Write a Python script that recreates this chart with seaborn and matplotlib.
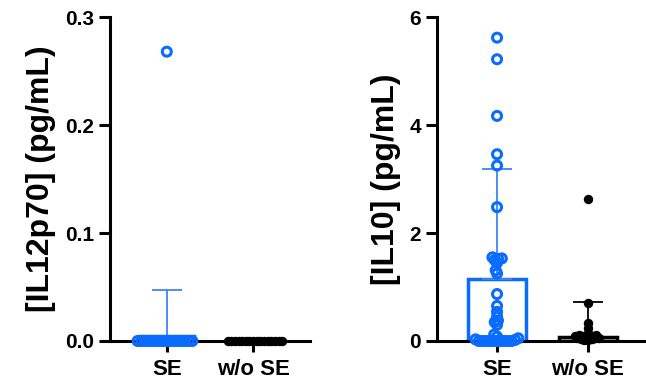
import numpy as np
import pandas as pd
import seaborn as sns
import matplotlib.pyplot as plt

#----------------------------------------
groups = ['SE', 'w/o SE']
colors = {'SE': '#0a6cff', 'w/o SE': 'black'}

# IL12p70 (pg/mL)
il12_se = [0.268] + [0.0] * 16
il12_wo = [0.0] * 16
il12_mean = [0.005, 0.0]
il12_sd = [0.042, 0.0]

# IL10 (pg/mL)
il10_se = [5.62, 5.22, 4.17, 3.46, 3.25, 2.48, 1.55, 1.53, 1.52, 1.50, 1.45,
           1.31, 1.25, 0.87, 0.65, 0.54, 0.45, 0.38, 0.35, 0.30, 0.12, 0.08,
           0.05, 0.03, 0.02, 0, 0, 0, 0, 0, 0, 0, 0, 0, 0]
il10_wo = [2.63, 0.71, 0.34, 0.24, 0.15, 0.12, 0.12, 0.10, 0.10, 0.10, 0.08,
           0.08, 0.06, 0.05, 0.05, 0.04, 0.03, 0.02, 0.02]
il10_mean = [1.15, 0.08]
il10_sd = [2.04, 0.65]
#----------------------------------------

sns.set_style('ticks')
plt.rcParams['font.family'] = ['Liberation Sans', 'DejaVu Sans']
plt.rcParams['font.weight'] = 'bold'
for k in ['text.color', 'axes.labelcolor', 'xtick.color', 'ytick.color']:
    plt.rcParams[k] = 'black'


def panel(ax, se, wo, means, sds, top, yticks, ylabel):
    df = pd.DataFrame({'group': ['SE'] * len(se) + ['w/o SE'] * len(wo),
                       'value': se + wo})
    bars = pd.DataFrame({'group': groups, 'mean': means})
    sns.barplot(data=bars, x='group', y='mean', hue='group', palette=colors,
                fill=False, width=0.64, linewidth=2.5, errorbar=None,
                legend=False, ax=ax)
    for i, g in enumerate(groups):
        ax.errorbar([i], [means[i]], yerr=[[0], [sds[i]]],
                    color='#3f86f5' if g == 'SE' else 'black',
                    lw=1.3, capsize=10.5, capthick=1.3, zorder=2)
    # small markers for the swarm layout, enlarged after the first draw
    sns.swarmplot(data=df, x='group', y='value', hue='group', palette=colors,
                  size=2.2, linewidth=0.3, legend=False, clip_on=False,
                  zorder=4, ax=ax, warn_thresh=1)
    ax.set_xlim(-0.66, 1.66)
    ax.set_ylim(0, top)
    ax.set_yticks(yticks)
    ax.set_xlabel('')
    ax.set_ylabel(ylabel, fontsize=23, fontweight='bold', labelpad=6)
    ax.tick_params(axis='both', width=2.2, length=8, color='black')
    ax.tick_params(axis='y', labelsize=15, pad=3.5)
    ax.tick_params(axis='x', labelsize=16, pad=5)
    for s in ['top', 'right']:
        ax.spines[s].set_visible(False)
    for s in ['left', 'bottom']:
        ax.spines[s].set_linewidth(2.2)
        ax.spines[s].set_color('black')
    for lab in ax.get_xticklabels() + ax.get_yticklabels():
        lab.set_fontweight('bold')


fig = plt.figure(figsize=(6.46, 3.86), dpi=100)
ax1 = fig.add_axes([0.170, 0.1166, 0.310, 0.839])
ax2 = fig.add_axes([0.6765, 0.1166, 0.3266, 0.839])

panel(ax1, il12_se, il12_wo, il12_mean, il12_sd, 0.3, [0.0, 0.1, 0.2, 0.3],
      '[IL12p70] (pg/mL)')
ax1.set_yticklabels(['0.0', '0.1', '0.2', '0.3'])
panel(ax2, il10_se, il10_wo, il10_mean, il10_sd, 6, [0, 2, 4, 6],
      '[IL10] (pg/mL)')

fig.canvas.draw()
for ax in [ax1, ax2]:
    pts = [c for c in ax.collections if c.get_offsets().shape[0] > 1]
    for c in pts:
        c.__dict__.pop('draw', None)
    pts[0].set_sizes([42])
    pts[0].set_facecolor('none')
    pts[0].set_edgecolor(colors['SE'])
    pts[0].set_linewidth(2.2)
    pts[1].set_sizes([46])
    pts[1].set_facecolor('black')
    pts[1].set_edgecolor('black')
    pts[1].set_linewidth(0)

plt.savefig('out.png', dpi=100)
